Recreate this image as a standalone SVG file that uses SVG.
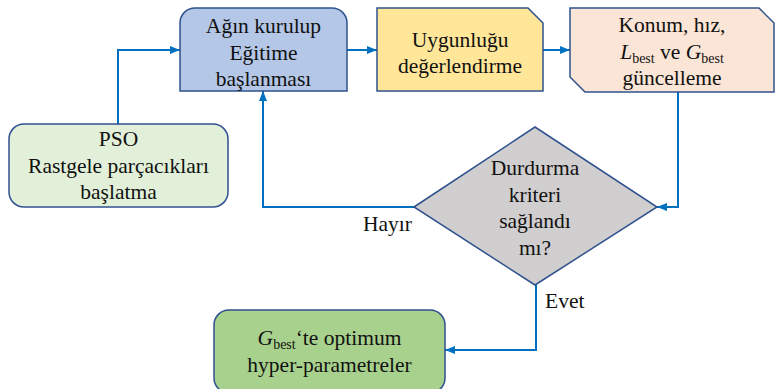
<svg xmlns="http://www.w3.org/2000/svg" width="776" height="389" viewBox="0 0 776 389">
<defs>
<style>
.node{stroke:#2f528f;stroke-width:1.5}
.t{font-size:21.5px;fill:#111;text-anchor:middle}
.lbl{font-size:21.5px;fill:#111}
.sub{font-size:14px}
.conn{fill:none;stroke:#0070c0;stroke-width:2;marker-end:url(#ah)}
</style>
<marker id="ah" markerUnits="userSpaceOnUse" markerWidth="10" markerHeight="10" viewBox="0 0 10 10" refX="10" refY="5" orient="auto">
<path d="M0,1 L10,5 L0,9 Z" fill="#0070c0"/>
</marker>
</defs>
<rect width="776" height="389" fill="#fff"/>
<g id="connectors">
<path class="conn" d="M118,124 V50 H180"/>
<path class="conn" d="M347,50 H377"/>
<path class="conn" d="M543,50 H570"/>
<path class="conn" d="M678,92 V207 H657"/>
<path class="conn" d="M414,207 H263 V91"/>
<path class="conn" d="M536,285 V350 H445"/>
</g>
<g font-family="Liberation Serif, DejaVu Serif, serif">
<g id="n_train">
<path class="node" fill="#b4c7e7" d="M180,91 V23 A15,15 0 0 1 195,8 H332 A15,15 0 0 1 347,23 V91 Z"/>
<text class="t" x="263.5" y="33">Ağın kurulup</text>
<text class="t" x="263.5" y="60">Eğitime</text>
<text class="t" x="263.5" y="86">başlanması</text>
</g>
<g id="n_fitness">
<path class="node" fill="#ffe699" d="M377,8 H528 L543,23 V91 H377 Z"/>
<text class="t" x="460" y="47">Uygunluğu</text>
<text class="t" x="460" y="73">değerlendirme</text>
</g>
<g id="n_update">
<path class="node" fill="#fbe5d6" d="M570,8 H759 L774,23 V92 H585 L570,77 Z"/>
<text class="t" x="672" y="32">Konum, hız,</text>
<text class="t" x="672" y="59"><tspan font-style="italic">L</tspan><tspan class="sub" dy="4">best</tspan><tspan dy="-4"> ve </tspan><tspan font-style="italic">G</tspan><tspan class="sub" dy="4">best</tspan></text>
<text class="t" x="672" y="85">güncelleme</text>
</g>
<g id="n_pso">
<rect class="node" fill="#e2f0d9" x="9" y="124" width="219" height="83" rx="15"/>
<text class="t" x="118.5" y="146">PSO</text>
<text class="t" x="118.5" y="173">Rastgele parçacıkları</text>
<text class="t" x="118.5" y="199">başlatma</text>
</g>
<g id="n_decision">
<polygon class="node" fill="#d0cece" points="414,207 535,127 657,207 535,285"/>
<text class="t" x="535" y="175">Durdurma</text>
<text class="t" x="535" y="202">kriteri</text>
<text class="t" x="535" y="228">sağlandı</text>
<text class="t" x="535" y="255">mı?</text>
</g>
<g id="n_result">
<rect class="node" fill="#a9d18e" x="214" y="310" width="231" height="83" rx="15"/>
<text class="t" x="329.5" y="345"><tspan font-style="italic">G</tspan><tspan class="sub" dy="4">best</tspan><tspan dy="-4">‘te optimum</tspan></text>
<text class="t" x="329.5" y="372">hyper-parametreler</text>
</g>
<g id="labels">
<text class="lbl" x="412" y="231" text-anchor="end">Hayır</text>
<text class="lbl" x="545" y="308">Evet</text>
</g>
</g>
</svg>
